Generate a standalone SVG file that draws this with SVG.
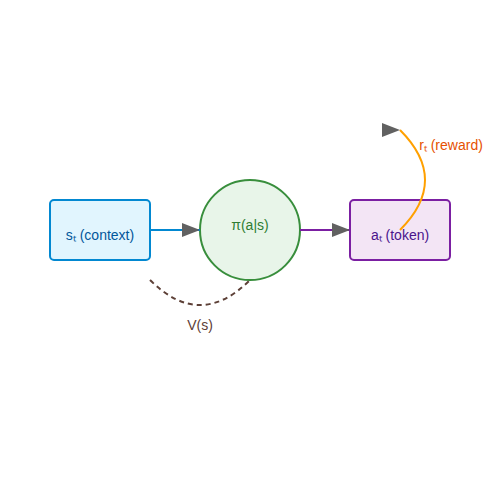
<svg xmlns="http://www.w3.org/2000/svg" width="500" height="500" viewBox="0 0 500 500">
<style>
text{font-family:"Liberation Sans",Arial,sans-serif;font-size:14px;text-anchor:middle}
.n{stroke-width:2}
.c{fill:none;stroke-width:2}
</style>
<defs>
<marker id="ah" viewBox="0 0 18 14" refX="18" refY="7" markerUnits="userSpaceOnUse" markerWidth="18" markerHeight="14">
<path d="M0,0 L18,7 L0,14 z" fill="#616161"/>
</marker>
</defs>
<rect width="500" height="500" fill="#ffffff"/>
<g id="s_t">
<rect class="n" x="50" y="200" width="100" height="60" rx="4" fill="#e1f5fe" stroke="#0288d1"/>
<text x="100" y="240" fill="#01579b">sₜ (context)</text>
</g>
<g id="policy">
<circle class="n" cx="250" cy="230" r="50" fill="#e8f5e9" stroke="#388e3c"/>
<text x="250" y="230" fill="#2e7d32">π(a|s)</text>
</g>
<g id="a_t">
<rect class="n" x="350" y="200" width="100" height="60" rx="4" fill="#f3e5f5" stroke="#7b1fa2"/>
<text x="400" y="240" fill="#4a148c">aₜ (token)</text>
</g>
<g id="connectors">
<line class="c" x1="150" y1="230" x2="200" y2="230" stroke="#0288d1" marker-end="url(#ah)"/>
<line class="c" x1="300" y1="230" x2="350" y2="230" stroke="#7b1fa2" marker-end="url(#ah)"/>
<path class="c" d="M400,230 Q450,180 400,130" stroke="#ffa000" marker-end="url(#ah)"/>
<path class="c" d="M150,280 Q200,330 250,280" stroke="#5d4037" stroke-dasharray="5,4"/>
<text x="451" y="150" fill="#e65100">rₜ (reward)</text>
<text x="200" y="330" fill="#5d4037">V(s)</text>
</g>
</svg>
